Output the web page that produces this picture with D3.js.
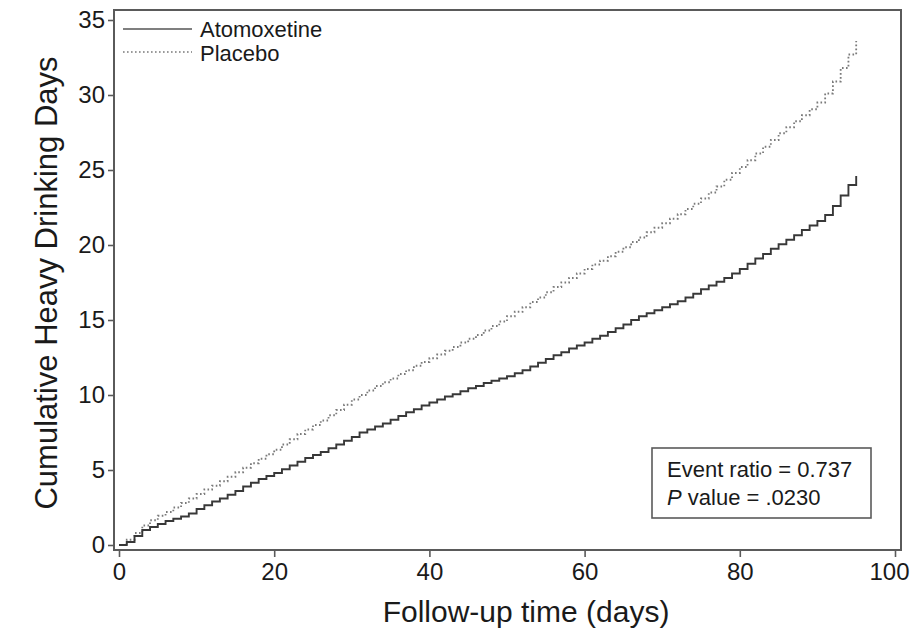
<!DOCTYPE html>
<html>
<head>
<meta charset="utf-8">
<script src="https://cdn.jsdelivr.net/npm/d3@7"></script>
<style>
  html, body { margin: 0; padding: 0; background: #fff; }
  svg { display: block; font-family: Arial, "Liberation Sans", Helvetica, sans-serif; }
</style>
</head>
<body>
<svg id="chart" width="910" height="629"></svg>
<script>
// ---- Data ----
const days = d3.range(0, 96); // follow-up day 0..95
const atomoxetine = [
  0, 0.2, 0.6, 1.0, 1.2, 1.4, 1.6, 1.75, 1.9, 2.1,
  2.4, 2.65, 2.9, 3.1, 3.35, 3.6, 3.9, 4.15, 4.4, 4.6,
  4.8, 5.05, 5.3, 5.55, 5.8, 6.0, 6.2, 6.45, 6.7, 6.95,
  7.2, 7.5, 7.7, 7.9, 8.1, 8.35, 8.6, 8.85, 9.05, 9.3,
  9.5, 9.7, 9.9, 10.05, 10.25, 10.45, 10.6, 10.8, 10.95, 11.1,
  11.25, 11.45, 11.65, 11.9, 12.15, 12.4, 12.65, 12.85, 13.1, 13.3,
  13.5, 13.75, 13.95, 14.2, 14.45, 14.7, 15.0, 15.25, 15.45, 15.65,
  15.85, 16.05, 16.25, 16.5, 16.75, 17.05, 17.3, 17.55, 17.8, 18.1,
  18.4, 18.75, 19.1, 19.4, 19.75, 20.05, 20.35, 20.65, 21.0, 21.3,
  21.6, 22.0, 22.6, 23.3, 24.0, 24.6
];
const placebo = [
  0, 0.35, 0.8, 1.3, 1.65, 1.95, 2.2, 2.5, 2.8, 3.1,
  3.4, 3.7, 3.95, 4.25, 4.55, 4.85, 5.15, 5.45, 5.75, 6.05,
  6.35, 6.7, 7.05, 7.4, 7.7, 8.0, 8.3, 8.65, 9.0, 9.35,
  9.7, 10.0, 10.3, 10.6, 10.85, 11.1, 11.4, 11.65, 11.95, 12.2,
  12.45, 12.7, 12.95, 13.2, 13.5, 13.75, 14.0, 14.3, 14.6, 14.9,
  15.25, 15.55, 15.85, 16.2, 16.5, 16.85, 17.2, 17.5, 17.8, 18.1,
  18.4, 18.7, 18.95, 19.25, 19.55, 19.85, 20.2, 20.5, 20.85, 21.15,
  21.45, 21.75, 22.05, 22.4, 22.75, 23.1, 23.5, 23.9, 24.35, 24.8,
  25.2, 25.65, 26.1, 26.55, 27.0, 27.45, 27.85, 28.25, 28.65, 29.05,
  29.5, 30.1, 30.9, 31.8, 32.7, 33.6
];
const xTicks = [0, 20, 40, 60, 80, 100];
const yTicks = [0, 5, 10, 15, 20, 25, 30, 35];
const seriesNames = ["Atomoxetine", "Placebo"];
const annotation = ["Event ratio = 0.737", "value = .0230"];

// ---- Layout ----
const svg = d3.select("#chart");
const frame = { left: 114, top: 10, right: 901, bottom: 550 };

const x = d3.scaleLinear().domain([0, 100]).range([119, 895]);
const y = d3.scaleLinear().domain([0, 35]).range([545, 20]);

// plot frame
svg.append("rect")
  .attr("x", frame.left).attr("y", frame.top)
  .attr("width", frame.right - frame.left)
  .attr("height", frame.bottom - frame.top)
  .attr("fill", "#fff")
  .attr("stroke", "#5a5a5a")
  .attr("stroke-width", 2);

// axes
const yAxis = svg.append("g")
  .attr("transform", `translate(${frame.left},0)`)
  .call(d3.axisLeft(y).tickValues(yTicks).tickSize(6).tickPadding(3).tickFormat(d3.format("d")));
const xAxis = svg.append("g")
  .attr("transform", `translate(0,${frame.bottom})`)
  .call(d3.axisBottom(x).tickValues(xTicks).tickSize(7).tickPadding(6).tickFormat(d3.format("d")));

[yAxis, xAxis].forEach(g => {
  g.select(".domain").remove();
  g.selectAll(".tick line").attr("stroke", "#5a5a5a").attr("stroke-width", 1.6);
  g.selectAll(".tick text")
    .attr("fill", "#1a1a1a")
    .style("font-size", "24px")
    .style("font-family", "Arial, 'Liberation Sans', sans-serif");
});
// keep the last x label inside the picture (it sits at the right edge)
xAxis.selectAll(".tick text").filter(d => d === 100).attr("dx", -6);

// step lines
const line = d3.line()
  .x(d => x(d[0]))
  .y(d => y(d[1]))
  .curve(d3.curveStepAfter);

svg.append("path")
  .datum(days.map((d, i) => [d, placebo[i]]))
  .attr("fill", "none")
  .attr("stroke", "#7a7a7a")
  .attr("stroke-width", 1.8)
  .attr("stroke-dasharray", "1.6,2.4")
  .attr("d", line);

svg.append("path")
  .datum(days.map((d, i) => [d, atomoxetine[i]]))
  .attr("fill", "none")
  .attr("stroke", "#383838")
  .attr("stroke-width", 1.9)
  .attr("d", line);

// legend
const legend = svg.append("g");
const legendRows = [
  { name: seriesNames[0], y: 29, dash: null, color: "#555", ty: 37 },
  { name: seriesNames[1], y: 52, dash: "1.6,2.4", color: "#7a7a7a", ty: 61 }
];
legendRows.forEach(r => {
  legend.append("line")
    .attr("x1", 123).attr("x2", 192)
    .attr("y1", r.y).attr("y2", r.y)
    .attr("stroke", r.color)
    .attr("stroke-width", 1.5)
    .attr("stroke-dasharray", r.dash);
  legend.append("text")
    .attr("x", 200).attr("y", r.ty)
    .attr("fill", "#1a1a1a")
    .style("font-size", "22px")
    .text(r.name);
});

// annotation box
const box = svg.append("g");
box.append("rect")
  .attr("x", 652).attr("y", 448)
  .attr("width", 219).attr("height", 70)
  .attr("fill", "#fff")
  .attr("stroke", "#5a5a5a")
  .attr("stroke-width", 1.6);
box.append("text")
  .attr("x", 667).attr("y", 477)
  .attr("fill", "#1a1a1a")
  .style("font-size", "22px")
  .text(annotation[0]);
const t2 = box.append("text")
  .attr("x", 667).attr("y", 505)
  .attr("fill", "#1a1a1a")
  .style("font-size", "22px");
t2.append("tspan").style("font-style", "italic").text("P");
t2.append("tspan").text(" " + annotation[1]);

// axis titles
svg.append("text")
  .attr("x", 526).attr("y", 622)
  .attr("text-anchor", "middle")
  .attr("fill", "#1a1a1a")
  .style("font-size", "30px")
  .text("Follow-up time (days)");

svg.append("text")
  .attr("transform", "translate(57,283) rotate(-90)")
  .attr("text-anchor", "middle")
  .attr("fill", "#1a1a1a")
  .style("font-size", "31px")
  .text("Cumulative Heavy Drinking Days");
</script>
</body>
</html>
